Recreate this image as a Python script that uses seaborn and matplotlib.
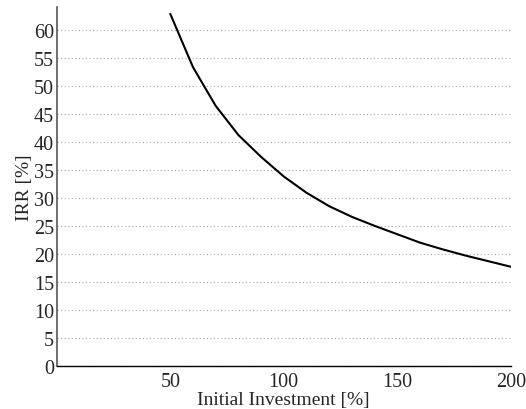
import numpy as np
import pandas as pd
import matplotlib
matplotlib.use("Agg")
import matplotlib.pyplot as plt
import seaborn as sns

# values
investment = [50, 60, 70, 80, 90, 100, 110, 120, 130, 140, 150, 160, 170, 180, 190, 200]
irr = [62.8, 53.3, 46.4, 41.2, 37.3, 33.8, 30.9, 28.5, 26.6, 25.0, 23.5, 22.0, 20.8, 19.7, 18.7, 17.7]
x_ticks = [50, 100, 150, 200]
y_ticks = list(range(0, 61, 5))

df = pd.DataFrame({"Initial Investment": investment, "IRR": irr})

sns.set_style("white")
plt.rcParams["font.family"] = ["Liberation Serif", "DejaVu Serif"]

fig = plt.figure(figsize=(5.26, 4.10), dpi=100)
ax = fig.add_axes([0.108, 0.105, 0.863, 0.875])

sns.lineplot(data=df, x="Initial Investment", y="IRR", color="black", linewidth=1.5, ax=ax)

ax.set_xlim(0, 200)
ax.set_ylim(0, 64)
ax.set_xticks(x_ticks)
ax.set_yticks(y_ticks)
ax.yaxis.grid(True, linestyle=(0, (1, 2.2)), color="#aaaaaa", linewidth=0.8)
ax.xaxis.grid(False)
ax.set_axisbelow(True)

for s in ["top", "right"]:
    ax.spines[s].set_visible(False)
ax.spines["left"].set_color("#555555")
ax.spines["left"].set_linewidth(1.2)
ax.spines["bottom"].set_color("black")
ax.spines["bottom"].set_linewidth(1.0)

ax.tick_params(axis="x", direction="in", length=4, width=0.8, labelsize=14.5, pad=4)
ax.tick_params(axis="y", direction="in", length=0, labelsize=14.5, pad=2)
ax.set_xlabel("Initial Investment [%]", fontsize=14, labelpad=0)
ax.set_ylabel("IRR [%]", fontsize=14, labelpad=1)

fig.savefig("out.png", dpi=100)
